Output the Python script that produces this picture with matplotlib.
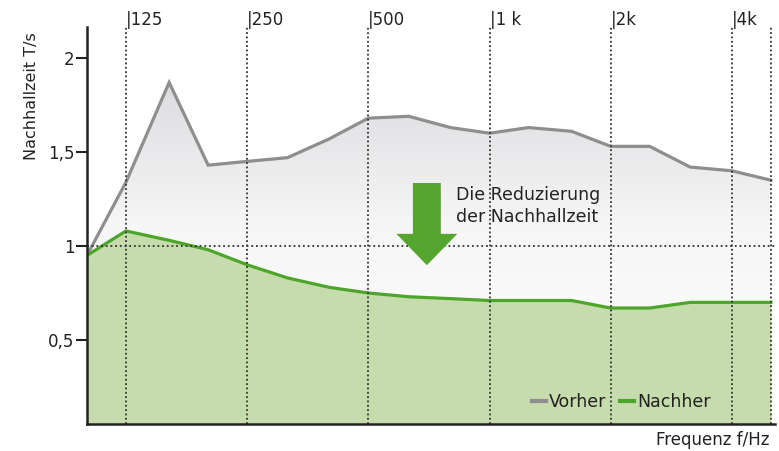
import numpy as np
import matplotlib
matplotlib.use('Agg')
import matplotlib.pyplot as plt
from matplotlib.colors import LinearSegmentedColormap
from matplotlib.lines import Line2D
from matplotlib.patches import Polygon

plt.rcParams['font.family'] = ['DejaVu Sans']

# third-octave bands, reverberation time before / after
freqs = [100, 125, 160, 200, 250, 315, 400, 500, 630, 800, 1000,
         1250, 1600, 2000, 2500, 3150, 4000, 5000]
vorher = [0.95, 1.34, 1.87, 1.43, 1.45, 1.47, 1.57, 1.68, 1.69, 1.63, 1.60,
          1.63, 1.61, 1.53, 1.53, 1.42, 1.40, 1.35]
nachher = [0.95, 1.08, 1.03, 0.98, 0.90, 0.83, 0.78, 0.75, 0.73, 0.72, 0.71,
           0.71, 0.71, 0.67, 0.67, 0.70, 0.70, 0.70]

grid_freqs = [125, 250, 500, 1000, 2000, 4000, 5000]
top_labels = ['125', '250', '500', '1 k', '2k', '4k', '']
yticks = [0.5, 1, 1.5, 2]
ytick_labels = ['0,5', '1', '1,5', '2']

GREY = '#8e8e8e'
GREEN = '#4ea52c'
GREEN_FILL = '#c6dcac'
TXT = '#222222'

fig = plt.figure(figsize=(7.79, 4.51), dpi=100)
ax = fig.add_axes([87 / 779, 27 / 451, 688 / 779, 397 / 451])
ax.set_xscale('log')
xlim = (100, 5120)
ylim = (0.053, 2.165)

# grey area with vertical gradient
fill = ax.fill_between(freqs, vorher, ylim[0], color='none', lw=0)
cmap = LinearSegmentedColormap.from_list('g', ['#ffffff', '#f6f6f6', '#d2d3d7'])
grad = np.linspace(0, 1, 256).reshape(-1, 1)
im = ax.imshow(grad, extent=[0, 1, 0, 1], transform=ax.transAxes,
               aspect='auto', cmap=cmap, origin='lower', zorder=1)
im.set_clip_path(fill.get_paths()[0], ax.transData)

ax.fill_between(freqs, nachher, ylim[0], color=GREEN_FILL, lw=0, zorder=2)
ax.plot(freqs, vorher, color=GREY, lw=2.3, zorder=3, solid_joinstyle='miter')
ax.plot(freqs, nachher, color=GREEN, lw=2.3, zorder=3)

# dotted grid
for f in grid_freqs:
    ax.axvline(f, color='#333333', ls=(0, (1, 1.4)), lw=1.3, zorder=4)
ax.axhline(1, color='#333333', ls=(0, (1, 1.6)), lw=1.3, zorder=4)

for f, lab in zip(grid_freqs, top_labels):
    if lab:
        ax.text(f, 1.005, '|' + lab, transform=ax.get_xaxis_transform(),
                ha='left', va='baseline', fontsize=12, color=TXT, clip_on=False)

# arrow
aw, hw = 0.0203, 0.0443
cx, ytop, ybase, ytip = 0.494, 0.607, 0.479, 0.400
arrow = Polygon([(cx - aw, ytop), (cx + aw, ytop), (cx + aw, ybase),
                 (cx + hw, ybase), (cx, ytip), (cx - hw, ybase), (cx - aw, ybase)],
                closed=True, transform=ax.transAxes, color='#55a52f', lw=0, zorder=5)
ax.add_patch(arrow)
ax.text(0.537, 0.55, 'Die Reduzierung\nder Nachhallzeit', transform=ax.transAxes,
        ha='left', va='center', fontsize=12.5, color=TXT, linespacing=1.3, zorder=5)

ax.set_xlim(*xlim)
ax.set_ylim(*ylim)
ax.set_xticks([])
ax.xaxis.set_minor_locator(matplotlib.ticker.NullLocator())
ax.set_yticks(yticks)
ax.set_yticklabels(ytick_labels)
ax.tick_params(axis='y', length=8, width=1.5, color='#222222', labelsize=12,
               labelcolor=TXT, pad=1)

for s in ['top', 'right']:
    ax.spines[s].set_visible(False)
for s in ['left', 'bottom']:
    ax.spines[s].set_linewidth(1.8)
    ax.spines[s].set_color('#222222')
    ax.spines[s].set_zorder(6)

ax.set_ylabel('Nachhallzeit T/s', fontsize=11.5, color=TXT)
ax.yaxis.set_label_coords(-0.07, 0.826)
fig.text(770 / 779, 1 - 440 / 451, 'Frequenz f/Hz', ha='right', va='center',
         fontsize=12, color=TXT)

handles = [Line2D([], [], color=GREY, lw=3), Line2D([], [], color=GREEN, lw=3)]
leg = ax.legend(handles, ['Vorher', 'Nachher'], loc='center right',
                bbox_to_anchor=(0.93, 0.055), ncol=2, frameon=False,
                handlelength=0.8, handletextpad=0.2, columnspacing=0.8,
                fontsize=12.5)
for t in leg.get_texts():
    t.set_color(TXT)
leg.set_zorder(7)

fig.savefig('out.png', dpi=100)
